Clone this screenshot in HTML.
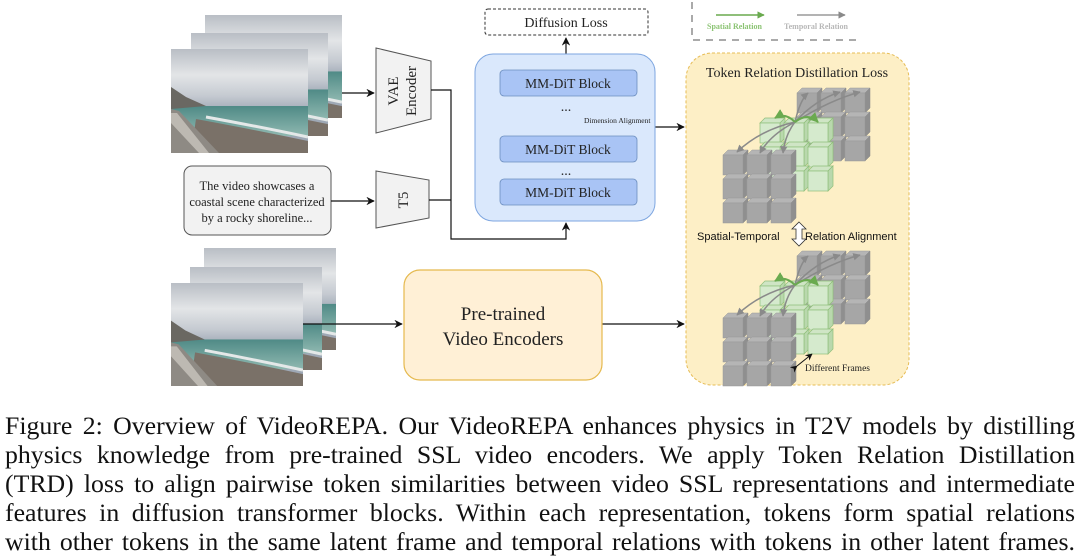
<!DOCTYPE html>
<html><head><meta charset="utf-8"><style>
body{margin:0;width:1080px;height:558px;background:#fff;overflow:hidden;position:relative;font-family:"Liberation Serif",serif}
.cap{position:absolute;left:5px;width:1070px;font-size:25.8px;line-height:29px;color:#111;text-align:justify;text-align-last:justify;white-space:nowrap}
</style></head><body>
<svg width="1080" height="400" style="position:absolute;left:0;top:0" font-family="Liberation Serif, serif">
<defs>
<linearGradient id="sky" x1="0" y1="0" x2="0" y2="1">
<stop offset="0" stop-color="#b9bec5"/><stop offset="0.25" stop-color="#e3e5e7"/><stop offset="0.45" stop-color="#c5cad1"/><stop offset="0.6" stop-color="#9ea8b5"/></linearGradient>
<linearGradient id="sea" x1="0" y1="0" x2="0" y2="1">
<stop offset="0" stop-color="#4f8a86"/><stop offset="1" stop-color="#8fb8b0"/></linearGradient>
<symbol id="photo" viewBox="0 0 137 104" preserveAspectRatio="none">
<rect width="137" height="104" fill="url(#sky)"/>
<rect y="57" width="137" height="30" fill="url(#sea)"/>
<path d="M0 38 L15 48 L35 57 L0 60Z" fill="#6a6862"/>
<path d="M25 70 Q80 80 137 92 L137 104 L20 104Z" fill="#7a7168"/>
<path d="M35 68 Q90 78 137 88" stroke="#e4e8e8" stroke-width="3" fill="none"/>
<path d="M0 60 L8 62 L48 104 L0 104Z" fill="#8e8a84"/>
<path d="M0 64 L6 64 L38 104 L28 104 L0 74Z" fill="#bdb9b2"/>
</symbol>
<marker id="ar" viewBox="0 0 10 10" refX="9" refY="5" markerWidth="7" markerHeight="7" orient="auto"><path d="M0 0L10 5L0 10L3 5Z" fill="#111"/></marker>
<marker id="ag" viewBox="0 0 10 10" refX="9" refY="5" markerWidth="5" markerHeight="5" orient="auto"><path d="M0 0L10 5L0 10Z" fill="#8a8a8a"/></marker>
<marker id="agr" viewBox="0 0 10 10" refX="9" refY="5" markerWidth="5" markerHeight="5" orient="auto"><path d="M0 0L10 5L0 10Z" fill="#6aaa4f"/></marker>
<symbol id="cg" overflow="visible"><path d="M0 5L5 0L25 0L20 5Z" fill="#b5b5b5" stroke="#999" stroke-width=".5"/><path d="M20 5L25 0L25 20L20 25Z" fill="#8f8f8f" stroke="#888" stroke-width=".5"/><rect x="0" y="5" width="20" height="20" fill="#a6a6a6" stroke="#999" stroke-width=".5"/></symbol>
<symbol id="cn" overflow="visible"><path d="M0 5L5 0L25 0L20 5Z" fill="#cfe5c5" stroke="#8fbf7a" stroke-width=".7"/><path d="M20 5L25 0L25 20L20 25Z" fill="#b9d8ad" stroke="#8fbf7a" stroke-width=".7"/><rect x="0" y="5" width="20" height="20" fill="#d5eacd" stroke="#8fbf7a" stroke-width=".7"/></symbol>
<g id="cluster">
<use href="#cg" x="797" y="88"/><use href="#cg" x="821" y="88"/><use href="#cg" x="845" y="88"/>
<use href="#cg" x="797" y="112"/><use href="#cg" x="821" y="112"/><use href="#cg" x="845" y="112"/>
<use href="#cg" x="797" y="136"/><use href="#cg" x="821" y="136"/><use href="#cg" x="845" y="136"/>
<use href="#cn" x="760" y="118"/><use href="#cn" x="784" y="118"/><use href="#cn" x="808" y="118"/>
<use href="#cn" x="760" y="142"/><use href="#cn" x="784" y="142"/><use href="#cn" x="808" y="142"/>
<use href="#cn" x="760" y="166"/><use href="#cn" x="784" y="166"/><use href="#cn" x="808" y="166"/>
<use href="#cg" x="723" y="150"/><use href="#cg" x="747" y="150"/><use href="#cg" x="771" y="150"/>
<use href="#cg" x="723" y="174"/><use href="#cg" x="747" y="174"/><use href="#cg" x="771" y="174"/>
<use href="#cg" x="723" y="198"/><use href="#cg" x="747" y="198"/><use href="#cg" x="771" y="198"/>
<g fill="none" stroke="#8a8a8a" stroke-width="1.5">
<path d="M795 122 Q760 130 737 152" marker-end="url(#ag)"/>
<path d="M795 122 Q770 135 760 153" marker-end="url(#ag)"/>
<path d="M795 122 Q785 135 783 153" marker-end="url(#ag)"/>
<path d="M795 122 Q800 100 808 93" marker-end="url(#ag)"/>
<path d="M795 122 Q815 100 840 92" marker-end="url(#ag)"/>
<path d="M795 122 Q830 100 860 92" marker-end="url(#ag)"/>
</g>
<g fill="none" stroke="#6aaa4f" stroke-width="2">
<path d="M795 122 Q785 112 775 118" marker-end="url(#agr)"/>
<path d="M795 122 Q808 112 818 122" marker-end="url(#agr)"/>
</g>
</g>
</defs>
<use href="#photo" x="205" y="15" width="137" height="103"/>
<use href="#photo" x="191" y="33" width="137" height="103"/>
<use href="#photo" x="171" y="49" width="137" height="104"/>
<use href="#photo" x="204" y="248" width="132" height="102"/>
<use href="#photo" x="190" y="267" width="132" height="103"/>
<use href="#photo" x="171" y="283" width="132" height="103"/>
<path d="M376 48 L431 61 L431 119 L376 133Z" fill="#f2f2f2" stroke="#555" stroke-width="1"/>
<text transform="translate(398 91) rotate(-90)" font-size="15" text-anchor="middle" fill="#222">VAE</text>
<text transform="translate(416 91) rotate(-90)" font-size="15" text-anchor="middle" fill="#222">Encoder</text>
<path d="M376 171 L429 180 L429 218 L376 228Z" fill="#f2f2f2" stroke="#555" stroke-width="1"/>
<text transform="translate(408 200) rotate(-90)" font-size="15" text-anchor="middle" fill="#222">T5</text>
<rect x="184" y="166" width="147" height="69" rx="8" fill="#f2f2f2" stroke="#555"/>
<text font-size="12.5" text-anchor="middle" fill="#222"><tspan x="257" y="190">The video showcases a</tspan><tspan x="257" y="206">coastal scene characterized</tspan><tspan x="257" y="222">by a rocky shoreline...</tspan></text>
<g stroke="#111" stroke-width="1.2" fill="none">
<path d="M342 93 L374 93" marker-end="url(#ar)"/>
<path d="M331 201 L374 201" marker-end="url(#ar)"/>
<path d="M431 90 L451 90 L451 239 L566 239 L566 223" marker-end="url(#ar)"/>
<path d="M429 200 L451 200"/>
<path d="M566 54 L566 38" marker-end="url(#ar)"/>
<path d="M566 136 L566 124" marker-end="url(#ar)"/>
<path d="M566 127 L684 127" marker-end="url(#ar)"/>
<path d="M303 324 L402 324" marker-end="url(#ar)"/>
<path d="M602 324 L684 324" marker-end="url(#ar)"/>
</g>
<rect x="485" y="9" width="163" height="26" rx="3" fill="#fff" stroke="#333" stroke-dasharray="3 2"/>
<text x="566" y="27" font-size="14" text-anchor="middle" fill="#222">Diffusion Loss</text>
<rect x="475" y="54" width="180" height="167" rx="18" fill="#dae8fc" stroke="#7ea6e0"/>
<rect x="500" y="70" width="137" height="26" rx="4" fill="#a9c4f5" stroke="#6c8ebf" stroke-width=".8"/>
<text x="568" y="88" font-size="13.5" text-anchor="middle" fill="#222">MM-DiT Block</text>
<text x="566" y="111" font-size="14" text-anchor="middle" fill="#222">...</text>
<rect x="500" y="136" width="137" height="26" rx="4" fill="#a9c4f5" stroke="#6c8ebf" stroke-width=".8"/>
<text x="568" y="154" font-size="13.5" text-anchor="middle" fill="#222">MM-DiT Block</text>
<text x="566" y="175" font-size="14" text-anchor="middle" fill="#222">...</text>
<rect x="500" y="179" width="137" height="26" rx="4" fill="#a9c4f5" stroke="#6c8ebf" stroke-width=".8"/>
<text x="568" y="197" font-size="13.5" text-anchor="middle" fill="#222">MM-DiT Block</text>
<text x="584" y="123" font-size="7.5" fill="#222">Dimension Alignment</text>
<rect x="404" y="270" width="198" height="110" rx="16" fill="#fff0d6" stroke="#e5b94e" stroke-width="1.2"/>
<text font-size="19" text-anchor="middle" fill="#222"><tspan x="503" y="320">Pre-trained</tspan><tspan x="503" y="345">Video Encoders</tspan></text>
<path d="M692 2 L692 40 L862 40" fill="none" stroke="#555" stroke-dasharray="7 6"/>
<path d="M716 15 L764 15" stroke="#6aaa4f" stroke-width="1.5" marker-end="url(#agr)"/>
<path d="M797 15 L845 15" stroke="#9a9a9a" stroke-width="1.5" marker-end="url(#ag)"/>
<text x="707" y="29" font-size="8" font-weight="bold" fill="#8cc474">Spatial Relation</text>
<text x="784" y="29" font-size="8" font-weight="bold" fill="#b8b8b8">Temporal Relation</text>
<rect x="686" y="53" width="223" height="332" rx="26" fill="#fdefc6" stroke="#e6bc55" stroke-dasharray="3 2"/>
<text x="797" y="77" font-size="14" text-anchor="middle" fill="#222">Token Relation Distillation Loss</text>
<use href="#cluster"/>
<use href="#cluster" y="163"/>
<text x="697" y="240" font-size="11" font-family="Liberation Sans, sans-serif" fill="#111">Spatial-Temporal</text>
<text x="805" y="240" font-size="11" font-family="Liberation Sans, sans-serif" fill="#111">Relation Alignment</text>
<path d="M799 222 L806 229 L802 229 L802 239 L806 239 L799 246 L792 239 L796 239 L796 229 L792 229Z" fill="#fff" stroke="#333" stroke-width=".8"/>
<path d="M797 366 L812 354" stroke="#111" stroke-width="1" marker-end="url(#ar)" marker-start="url(#ar)"/>
<text x="805" y="371" font-size="9.5" fill="#222">Different Frames</text>
</svg>
<div class="cap" style="top:411px">Figure 2: Overview of VideoREPA. Our VideoREPA enhances physics in T2V models by distilling</div>
<div class="cap" style="top:440px">physics knowledge from pre-trained SSL video encoders. We apply Token Relation Distillation</div>
<div class="cap" style="top:469px">(TRD) loss to align pairwise token similarities between video SSL representations and intermediate</div>
<div class="cap" style="top:498px">features in diffusion transformer blocks. Within each representation, tokens form spatial relations</div>
<div class="cap" style="top:527px">with other tokens in the same latent frame and temporal relations with tokens in other latent frames.</div>
</body></html>
